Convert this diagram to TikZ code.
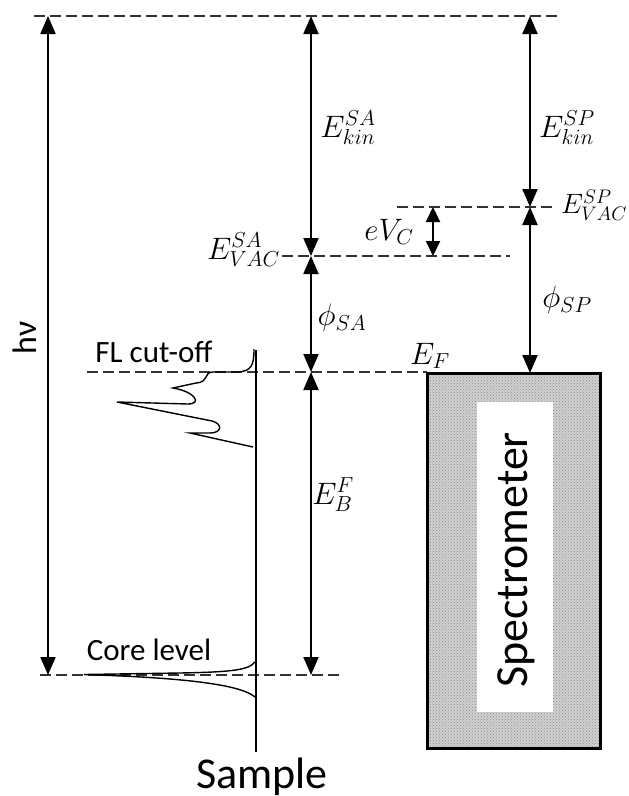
\RequirePackage{fix-cm}
\documentclass[tikz,border=0pt]{standalone}
\usepackage{fontspec}
\newfontfamily\carl{Carlito}
\usetikzlibrary{arrows.meta,patterns}
\begin{document}
\begin{tikzpicture}[x=1pt,y=-1pt,
  level/.style={dash pattern=on 11pt off 5pt, line width=1.3pt, black!80},
  dimarrow/.style={{Triangle[length=18pt,width=15pt]}-{Triangle[length=18pt,width=15pt]}, line width=2pt},
  lbl/.style={font=\fontsize{31}{36}\selectfont, inner sep=0pt},
  txt/.style={font=\carl\fontsize{31}{36}\selectfont, inner sep=0pt},
  spec/.style={line width=1.4pt}]
\useasboundingbox (0,0) rectangle (629,796);

% level coordinates
\coordinate (hvT) at (48,16);
\coordinate (hvB) at (48,675);
\coordinate (mT) at (311,16);
\coordinate (mVac) at (311,256);
\coordinate (mF) at (311,372);
\coordinate (mC) at (311,675);
\coordinate (rT) at (530,16);
\coordinate (rVac) at (530,207);
\coordinate (rF) at (530,373);
\coordinate (eT) at (433,207);
\coordinate (eB) at (433,256);

% dashed levels
\coordinate (d1a) at (34,16);   \coordinate (d1b) at (558,16);
\coordinate (d2a) at (397,207); \coordinate (d2b) at (557,207);
\coordinate (d3a) at (282,256); \coordinate (d3b) at (510,256);
\coordinate (d4a) at (87,372);  \coordinate (d4b) at (427,372);
\coordinate (d5a) at (40,675);  \coordinate (d5b) at (343,675);
\draw[level] (d1a) -- (d1b);
\draw[level] (d2a) -- (d2b);
\draw[level] (d3a) -- (d3b);
\draw[level] (d4a) -- (d4b);
\draw[level] (d5a) -- (d5b);

% spectrometer
\coordinate (boxA) at (427,373); \coordinate (boxB) at (600,748);
\coordinate (inA) at (477,402); \coordinate (inB) at (553,712);
\fill[black!18] (boxA) rectangle (boxB);
\fill[pattern=crosshatch dots, pattern color=black!45] (boxA) rectangle (boxB);
\draw[line width=3pt] (boxA) rectangle (boxB);
\fill[white] (inA) rectangle (inB);
\node[font=\carl\fontsize{46}{52}\selectfont, rotate=90, inner sep=0pt] (spectxt) at (516,560) {Spectrometer};

% arrows
\draw[dimarrow] (hvT) -- (hvB);
\draw[dimarrow] (mT) -- (mVac);
\draw[dimarrow] (mVac) -- (mF);
\draw[dimarrow] (mF) -- (mC);
\draw[dimarrow] (rT) -- (rVac);
\draw[dimarrow] (rVac) -- (rF);
\draw[{Triangle[length=15pt,width=14pt]}-{Triangle[length=15pt,width=14pt]}, line width=2pt] (eT) -- (eB);

% sample line and spectra
\coordinate (sT) at (256,350); \coordinate (sB) at (256,752);
\draw[line width=1.2pt] (sT) -- (sB);
\draw[spec, line join=miter] (254,349) .. controls (254,366) and (251,371) .. (238,372)
  -- (213,372) .. controls (203,372) and (210,382) .. (196,383)
  -- (173,388) .. controls (196,392) and (202,404) .. (188,404)
  -- (117,402) -- (212,421) .. controls (223,424) and (222,433) .. (210,433)
  -- (190,433) -- (253,447);
\draw[spec] (255,662) .. controls (249,670) and (232,672) .. (180,673) -- (84,674.5)
  .. controls (160,677) and (238,682) .. (255,697);

% labels
\node[lbl] (ekinsa) at (348,128) {$E^{SA}_{kin}$};
\node[lbl] (ekinsp) at (567,128) {$E^{SP}_{kin}$};
\node[lbl, font=\fontsize{28}{32}\selectfont, anchor=west] (evacsp) at (561,205) {$E^{SP}_{VAC}$};
\node[lbl] (evc) at (389,232) {$eV_C$};
\node[lbl, anchor=east] (evacsa) at (280,250) {$E^{SA}_{VAC}$};
\node[lbl] (phisa) at (342,318) {$\phi_{SA}$};
\node[lbl] (phisp) at (567,300) {$\phi_{SP}$};
\node[lbl, anchor=west] (ef) at (410,356) {$E_F$};
\node[lbl] (ebf) at (333,495) {$E^F_B$};

\node[txt, font=\carl\fontsize{34}{38}\selectfont, rotate=90] (hv) at (25,338) {hν};
\node[txt] (fl) at (154,352) {FL cut-off};
\node[txt] (core) at (149,650) {Core level};
\node[font=\carl\fontsize{44}{50}\selectfont, inner sep=0pt, anchor=base] (sample) at (262,788) {Sample};
\end{tikzpicture}
\end{document}
